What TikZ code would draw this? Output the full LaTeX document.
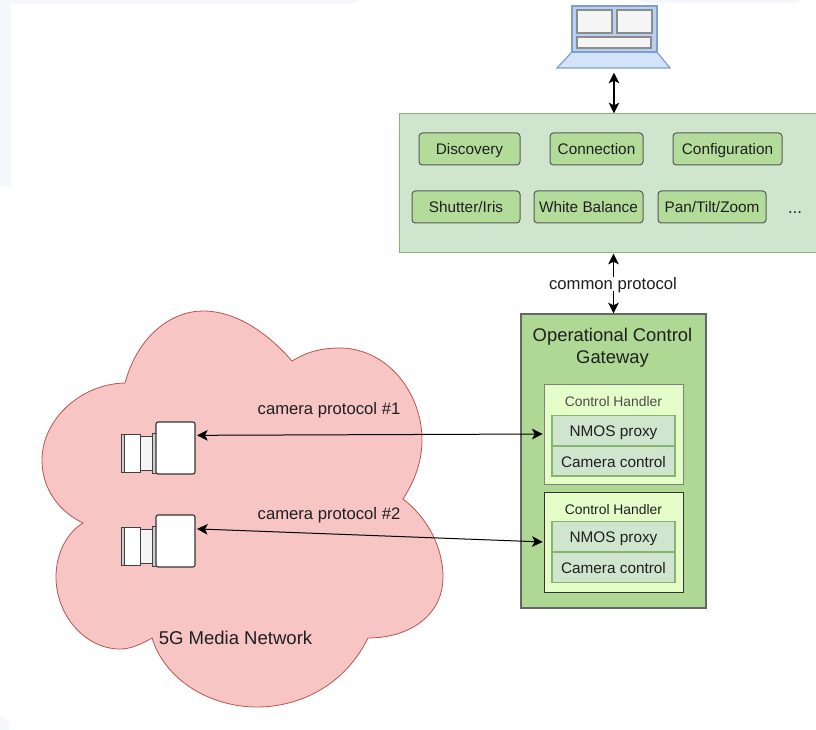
\documentclass[tikz,border=0pt]{standalone}
\usepackage{fontspec}
\setmainfont{Liberation Sans}
\usetikzlibrary{arrows.meta}
\definecolor{txt}{HTML}{1F1F1F}
\definecolor{panelfill}{HTML}{CFE5CE}
\definecolor{panelline}{HTML}{86B56E}
\definecolor{funcfill}{HTML}{B3DC9B}
\definecolor{gatefill}{HTML}{AED894}
\definecolor{handlerfill}{HTML}{E4FDC9}
\definecolor{cloudfill}{HTML}{F6C5C4}
\definecolor{cloudline}{HTML}{B85450}
\definecolor{lapfill}{HTML}{D3E3FA}
\definecolor{lapscreen}{HTML}{BAD0EF}
\definecolor{lapline}{HTML}{7D9FD0}
\definecolor{faint}{HTML}{F6F7FA}
\tikzset{
  x=0.75pt,y=-0.75pt,
  every node/.style={inner sep=0pt,outer sep=0pt,text=txt,align=center},
  evenline/.style={text height=0.9em,text depth=0em},
  panelbox/.style={draw=panelline,fill=panelfill,line width=0.75pt},
  funcbox/.style={draw=black!65,fill=funcfill,line width=0.75pt,rounded corners=2.5pt,minimum height=24pt,font=\fontsize{11.5}{14}\selectfont,evenline},
  gatebox/.style={draw=black!60,fill=gatefill,line width=0.9pt},
  handlerbox/.style={fill=handlerfill,line width=0.7pt},
  innerbox/.style={draw=panelline,fill=panelfill,line width=0.9pt,minimum width=92.25pt,minimum height=22.6pt,font=\fontsize{11.5}{14}\selectfont,evenline},
  handlertext/.style={font=\fontsize{10.4}{12}\selectfont,evenline},
  bigtext/.style={font=\fontsize{13.8}{16.5}\selectfont},
  labeltext/.style={font=\fontsize{12.5}{15}\selectfont,evenline},
  link/.style={draw=black,line width=0.75pt,{Stealth[length=8pt,width=8pt,inset=2pt]}-{Stealth[length=8pt,width=8pt,inset=2pt]}},
  camline/.style={draw=black!75,line width=0.6pt,fill=white},
  pics/lens/.style={code={
    \path[camline,fill=black!20] (-35,12) rectangle (-32,50);
    \path[camline] (-32,12) rectangle (-16,50);
    \path[camline,fill=black!4] (-16,14) rectangle (-4,48);
    \path[camline,fill=black!18] (-4,11) rectangle (0,51);
  }},
}
\begin{document}
\begin{tikzpicture}
\useasboundingbox (0,0) rectangle (816,730);
% faint page remnants
\fill[faint] (0,0) -- (360,0) -- (352,4) -- (11,4) -- (11,187) -- (0,186) -- cycle;
\fill[faint] (635,0) -- (802,0) -- (795,3) -- (650,3) -- cycle;
\fill[faint] (0,716) -- (9,722) -- (9,730) -- (0,730) -- cycle;
% cloud
\path[fill=cloudfill,draw=cloudline,line width=0.6pt]
  (125,383) .. controls (138,335) and (172,311) .. (203,311)
  .. controls (240,311) and (272,338) .. (292,361)
  .. controls (310,350) and (325,348) .. (342,348)
  .. controls (390,350) and (422,395) .. (422,440)
  .. controls (422,465) and (412,485) .. (403,499)
  .. controls (428,518) and (443,548) .. (443,577)
  .. controls (443,615) and (410,638) .. (368,638)
  .. controls (345,685) and (300,707) .. (257,707)
  .. controls (210,707) and (165,680) .. (152,638)
  .. controls (140,645) and (130,649) .. (120,649)
  .. controls (85,649) and (56,615) .. (56,577)
  .. controls (56,552) and (68,532) .. (83,523)
  .. controls (60,512) and (42,490) .. (42,460)
  .. controls (42,420) and (80,384) .. (125,383) -- cycle;
% laptop
\path[fill=lapfill,draw=lapline,line width=0.9pt] (572,52) -- (657,52) -- (670,68) -- (557,68) -- cycle;
\path[fill=lapscreen,draw=lapline,line width=0.9pt] (572,6) rectangle (657,52);
\path[fill=black!4,draw=black!45,line width=0.9pt] (577,10) rectangle (612,33);
\path[fill=black!4,draw=black!45,line width=0.9pt] (617,10) rectangle (652,33);
\path[fill=black!4,draw=black!45,line width=0.9pt] (577,37) rectangle (651,48);
\coordinate (lapbase) at (614,70);
% top panel
\node[panelbox,minimum width=314.25pt,minimum height=104.25pt] (panel) at (608.5,183.5) {};
\node[funcbox,minimum width=75.75pt] (discovery) at (469.5,149) {Discovery};
\node[funcbox,minimum width=69.75pt] (connection) at (596.5,149) {Connection};
\node[funcbox,minimum width=81.75pt] (configuration) at (727.5,149) {Configuration};
\node[funcbox,minimum width=81pt] (shutter) at (466,207) {Shutter/Iris};
\node[funcbox,minimum width=81.75pt] (white) at (588.5,207) {White Balance};
\node[funcbox,minimum width=81pt] (pan) at (712,207) {Pan/Tilt/Zoom};
\node[font=\fontsize{12.5}{15}\selectfont] (dots) at (795,213) {...};
% gateway
\node[gatebox,minimum width=138.75pt,minimum height=220.5pt] (gateway) at (613.5,461) {};
\node[bigtext] (gatetitle) at (612.5,347.5) {Operational Control\\Gateway};
\node[handlerbox,draw=black!50,minimum width=104.25pt,minimum height=75pt] (h1) at (613.5,434) {};
\node[handlertext,text=black!70] (h1t) at (613.5,400.5) {Control Handler};
\node[innerbox] (n1) at (613.5,430.5) {NMOS proxy};
\node[innerbox] (c1) at (613.5,461) {Camera control};
\node[handlerbox,draw=black!80,minimum width=104.25pt,minimum height=75pt] (h2) at (613.5,542) {};
\node[handlertext] (h2t) at (613.5,508.5) {Control Handler};
\node[innerbox] (n2) at (613.5,536.5) {NMOS proxy};
\node[innerbox] (c2) at (613.5,567.5) {Camera control};
% cameras
\pic at (156,422) {lens};
\pic at (156,515) {lens};
\node[draw=black!80,fill=white,line width=0.8pt,rounded corners=1.5pt,minimum width=29.25pt,minimum height=39pt] (cam1) at (175.5,448) {};
\node[draw=black!80,fill=white,line width=0.8pt,rounded corners=1.5pt,minimum width=29.25pt,minimum height=39pt] (cam2) at (175.5,541) {};
% labels
\node[labeltext] (lab1) at (329,408) {camera protocol \#1};
\node[labeltext] (lab2) at (329,513) {camera protocol \#2};
\node[font=\fontsize{13.9}{16}\selectfont,evenline] (netlab) at (235.5,638) {5G Media Network};
% connectors
\draw[link,line width=1.2pt,shorten <=2pt,shorten >=0.5pt] (lapbase) -- (lapbase |- panel.north);
\draw[link,shorten <=0.5pt,shorten >=0.5pt] (gateway.north) -- (gateway.north |- panel.south);
\node[labeltext,fill=white,inner sep=1pt] (common) at (613,284) {common protocol};
\draw[link,shorten <=1.5pt,shorten >=1pt] (cam1.33.7) -- (h1.west);
\draw[link,shorten <=1.5pt,shorten >=1pt] (cam2.32.6) -- (h2.west);
\end{tikzpicture}
\end{document}
